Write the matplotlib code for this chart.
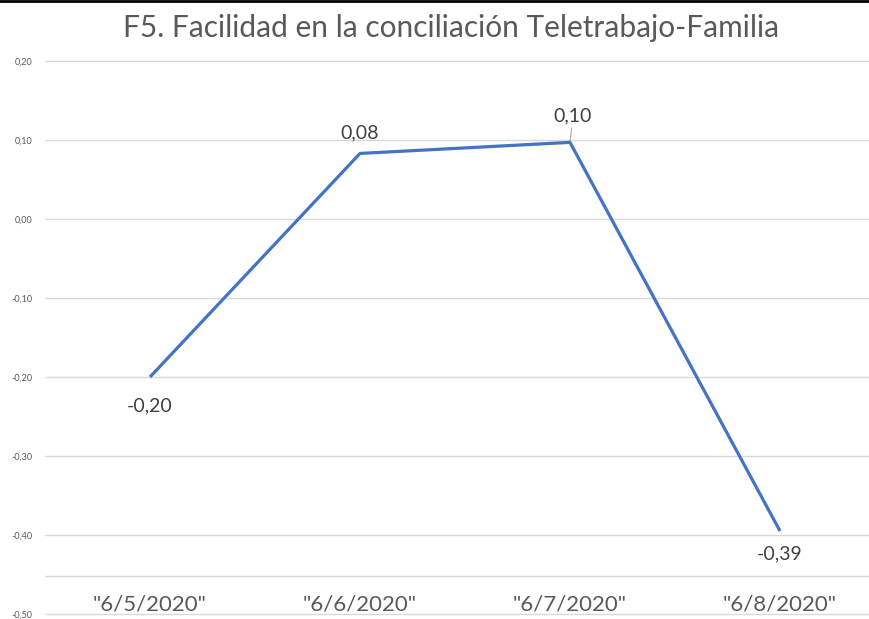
import matplotlib.pyplot as plt
from matplotlib.lines import Line2D

# data
fechas = ['"6/5/2020"', '"6/6/2020"', '"6/7/2020"', '"6/8/2020"']
valores = [-0.20, 0.083, 0.097, -0.395]
etiquetas = ["-0,20", "0,08", "0,10", "-0,39"]
yticks = [-0.50, -0.40, -0.30, -0.20, -0.10, 0.00, 0.10, 0.20]

gris = "#595959"
azul = "#4472C4"
plt.rcParams['font.family'] = ['Lato', 'DejaVu Sans']

fig = plt.figure(figsize=(8.7, 6.19), dpi=100)
ax = fig.add_axes([45 / 870, 5 / 619, 840 / 870, 553 / 619])

x = list(range(len(fechas)))
ax.plot(x, valores, color=azul, linewidth=2.3, solid_capstyle='butt', zorder=3)

ax.set_xlim(-0.5, len(fechas) - 0.5)
ax.set_ylim(-0.5, 0.2)
ax.set_yticks(yticks)
ax.set_yticklabels([f"{v:.2f}".replace(".", ",") for v in yticks])
ax.tick_params(axis='y', length=0, pad=9, labelsize=6.5, labelcolor=gris)
ax.set_xticks([])
ax.grid(axis='y', color="#D9D9D9", linewidth=1.0, clip_on=False)
ax.set_axisbelow(True)
ax.axhline(-0.452, color="#D9D9D9", linewidth=1.0, zorder=1)
for s in ax.spines.values():
    s.set_visible(False)

# category labels drawn inside the plot area, as in the original
for i, f in enumerate(fechas):
    ax.text(i, -0.488, f, ha='center', va='center', fontsize=16, color=gris)

# data labels
lbl = dict(ha='center', va='center', fontsize=14, color="#404040")
ax.text(x[0], valores[0] - 0.036, etiquetas[0], **lbl)
ax.text(x[1], valores[1] + 0.026, etiquetas[1], **lbl)
ax.text(x[2] + 0.01, valores[2] + 0.034, etiquetas[2], **lbl)
ax.plot([x[2] + 0.008, x[2]], [valores[2] + 0.018, valores[2] + 0.002], color="#A6A6A6", linewidth=0.8, zorder=2)
ax.text(x[3], valores[3] - 0.029, etiquetas[3], **lbl)

fig.text(0.518, 1 - 28 / 619, "F5. Facilidad en la conciliación Teletrabajo-Familia",
         ha='center', va='center', fontsize=21.5, color=gris)
fig.add_artist(Line2D([0, 1], [1 - 1 / 619, 1 - 1 / 619], color="black", linewidth=2, transform=fig.transFigure))

fig.savefig("out.png", dpi=100)
